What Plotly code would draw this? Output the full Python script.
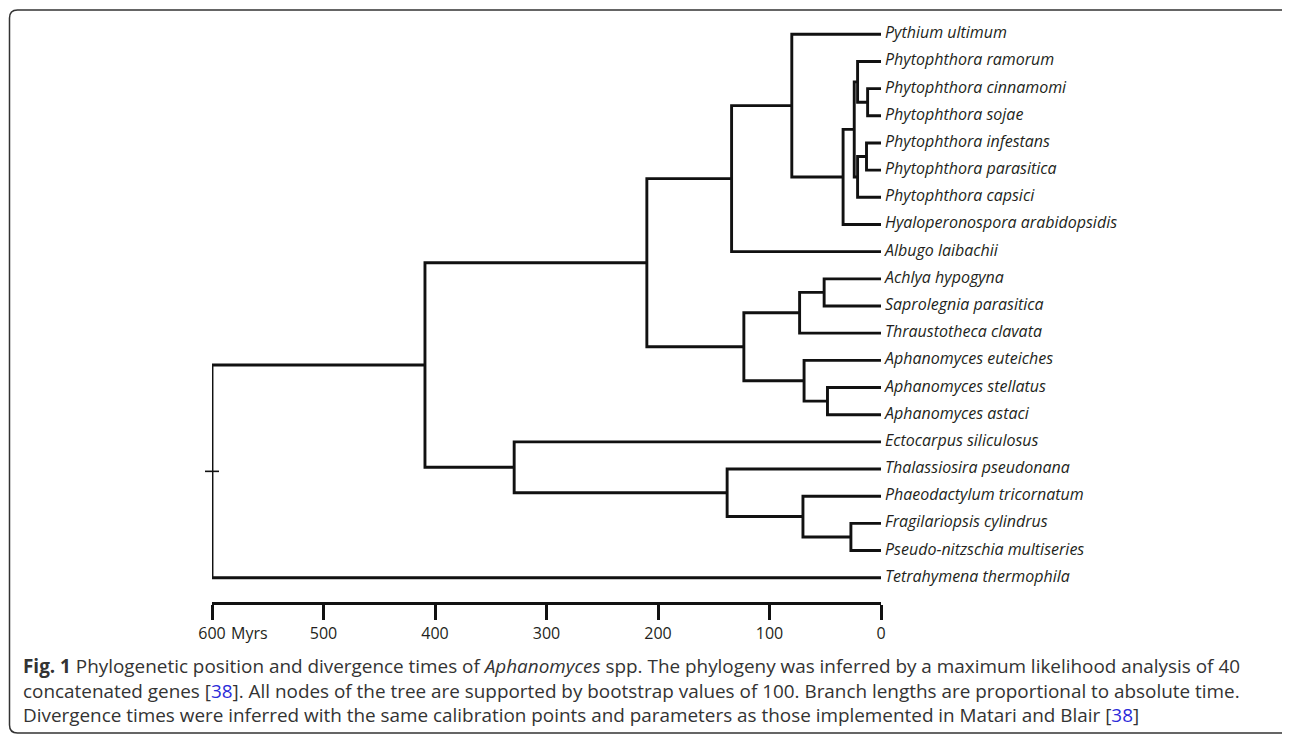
import plotly.graph_objects as go

# ---------------- data ----------------
leaves = [
    "Pythium ultimum", "Phytophthora ramorum", "Phytophthora cinnamomi",
    "Phytophthora sojae", "Phytophthora infestans", "Phytophthora parasitica",
    "Phytophthora capsici", "Hyaloperonospora arabidopsidis", "Albugo laibachii",
    "Achlya hypogyna", "Saprolegnia parasitica", "Thraustotheca clavata",
    "Aphanomyces euteiches", "Aphanomyces stellatus", "Aphanomyces astaci",
    "Ectocarpus siliculosus", "Thalassiosira pseudonana",
    "Phaeodactylum tricornatum", "Fragilariopsis cylindrus",
    "Pseudo-nitzschia multiseries", "Tetrahymena thermophila",
]

# internal nodes: name, age in Myr, children
node_names = ["root", "stram", "oomy", "pero_all", "py_pero", "pero_hy", "phyto",
              "ph_a", "ph_a2", "ph_b", "ph_b2", "sapro", "saprolegn", "ach_sap",
              "aphano", "aph_b", "ochro", "diatom", "dia_b", "dia_c"]
node_ages = [600, 409, 210, 134, 80, 34, 24, 21, 12, 21, 13, 123, 73, 51, 69, 48,
             329, 138, 70, 27]
node_children = [
    ["stram", "Tetrahymena thermophila"],
    ["oomy", "ochro"],
    ["pero_all", "sapro"],
    ["py_pero", "Albugo laibachii"],
    ["Pythium ultimum", "pero_hy"],
    ["phyto", "Hyaloperonospora arabidopsidis"],
    ["ph_a", "ph_b"],
    ["Phytophthora ramorum", "ph_a2"],
    ["Phytophthora cinnamomi", "Phytophthora sojae"],
    ["ph_b2", "Phytophthora capsici"],
    ["Phytophthora infestans", "Phytophthora parasitica"],
    ["saprolegn", "aphano"],
    ["ach_sap", "Thraustotheca clavata"],
    ["Achlya hypogyna", "Saprolegnia parasitica"],
    ["Aphanomyces euteiches", "aph_b"],
    ["Aphanomyces stellatus", "Aphanomyces astaci"],
    ["Ectocarpus siliculosus", "diatom"],
    ["Thalassiosira pseudonana", "dia_b"],
    ["Phaeodactylum tricornatum", "dia_c"],
    ["Fragilariopsis cylindrus", "Pseudo-nitzschia multiseries"],
]

tick_vals = [600, 500, 400, 300, 200, 100, 0]
tick_text = ["600", "500", "400", "300", "200", "100", "0"]
axis_unit = "Myrs"

caption_lines = [
    "<b>Fig. 1</b> Phylogenetic position and divergence times of <i>Aphanomyces</i> spp. "
    "The phylogeny was inferred by a maximum likelihood analysis of 40",
    "concatenated genes [<span style='color:#2b2bd9'>38</span>]. All nodes of the tree are "
    "supported by bootstrap values of 100. Branch lengths are proportional to absolute time.",
    "Divergence times were inferred with the same calibration points and parameters as those "
    "implemented in Matari and Blair [<span style='color:#2b2bd9'>38</span>]",
]

# ---------------- layout geometry (window pixels) ----------------
OFF = 8                      # page body margin offset
W, H = 1290, 736
L, R, T, B = 212 - OFF, 881 - OFF, 20 - OFF, 602 - OFF
PW, PH = R - L, B - T
LEAF0, LEAF_STEP = 34.3 - OFF, 27.17

def px_to_paper_x(px):
    return (px - OFF - L) / PW

def px_to_paper_y(py):
    return (B - (py - OFF)) / PH

# ---------------- tree geometry ----------------
ages = {n: a for n, a in zip(node_names, node_ages)}
children = {n: c for n, c in zip(node_names, node_children)}
ypos = {name: i for i, name in enumerate(leaves)}
for lf in leaves:
    ages[lf] = 0

def get_y(n):
    if n in ypos:
        return ypos[n]
    ys = [get_y(c) for c in children[n]]
    ypos[n] = (min(ys) + max(ys)) / 2
    return ypos[n]

get_y("root")

xs, ys = [], []
for n in node_names:
    c1, c2 = children[n]
    a = ages[n]
    xs += [ages[c1], a, a, ages[c2], None]
    ys += [ypos[c1], ypos[c1], ypos[c2], ypos[c2], None]

INK = "#111111"
TXT = "#231f20"

fig = go.Figure()
fig.add_trace(go.Scatter(x=xs, y=ys, mode="lines",
                         line=dict(color=INK, width=2.9),
                         hoverinfo="skip", showlegend=False))
# root stub
fig.add_trace(go.Scatter(x=[ages["root"]], y=[ypos["root"]], mode="markers",
                         marker=dict(symbol="line-ew", size=10,
                                     line=dict(color=INK, width=1.6)),
                         cliponaxis=False, hoverinfo="skip", showlegend=False))
# leaf labels
fig.add_trace(go.Scatter(x=[0] * len(leaves), y=list(range(len(leaves))),
                         mode="text", text=["\u2005" + s for s in leaves],
                         textposition="middle right",
                         textfont=dict(family="Open Sans", size=16, color=TXT,
                                       style="italic"),
                         cliponaxis=False, hoverinfo="skip", showlegend=False))

y_top = (T - LEAF0) / LEAF_STEP
y_bot = (B - LEAF0) / LEAF_STEP

fig.update_layout(
    width=W, height=H,
    margin=dict(l=L, r=W - R, t=T, b=H - B, pad=0),
    paper_bgcolor="white", plot_bgcolor="white",
    xaxis=dict(range=[600, 0], tickvals=tick_vals, ticktext=tick_text,
               showline=True, linecolor=INK, linewidth=3,
               ticks="outside", ticklen=15, tickwidth=3, tickcolor=INK,
               showgrid=False, zeroline=False,
               tickfont=dict(family="Open Sans", size=16, color=TXT)),
    yaxis=dict(range=[y_bot, y_top], visible=False, showgrid=False, zeroline=False),
    font=dict(family="Open Sans"),
)

# "Myrs" after the 600 tick label
fig.add_annotation(x=600, xref="x", y=px_to_paper_y(633), yref="paper",
                   text=axis_unit, showarrow=False, xanchor="left", yanchor="middle",
                   xshift=17, font=dict(family="Open Sans", size=16, color=TXT))

# caption
for i, line in enumerate(caption_lines):
    fig.add_annotation(x=px_to_paper_x(21), xref="paper",
                       y=px_to_paper_y(666 + 24.5 * i), yref="paper",
                       text=line, showarrow=False, xanchor="left", yanchor="middle",
                       align="left",
                       font=dict(family="Open Sans", size=18.9, color="#333333"))

# rounded frame
x0, x1 = px_to_paper_x(9.5), px_to_paper_x(1288.5)
y0, y1 = px_to_paper_y(10), px_to_paper_y(733)
rx, ry = 8 / PW, 8 / PH
path = (f"M {x0 + rx},{y0} L {x1 - rx},{y0} Q {x1},{y0} {x1},{y0 - ry} "
        f"L {x1},{y1 + ry} Q {x1},{y1} {x1 - rx},{y1} L {x0 + rx},{y1} "
        f"Q {x0},{y1} {x0},{y1 + ry} L {x0},{y0 - ry} Q {x0},{y0} {x0 + rx},{y0} Z")
fig.add_shape(type="path", path=path, xref="paper", yref="paper",
              line=dict(color="#333333", width=1.5), layer="below")

fig.write_html("out.html")
